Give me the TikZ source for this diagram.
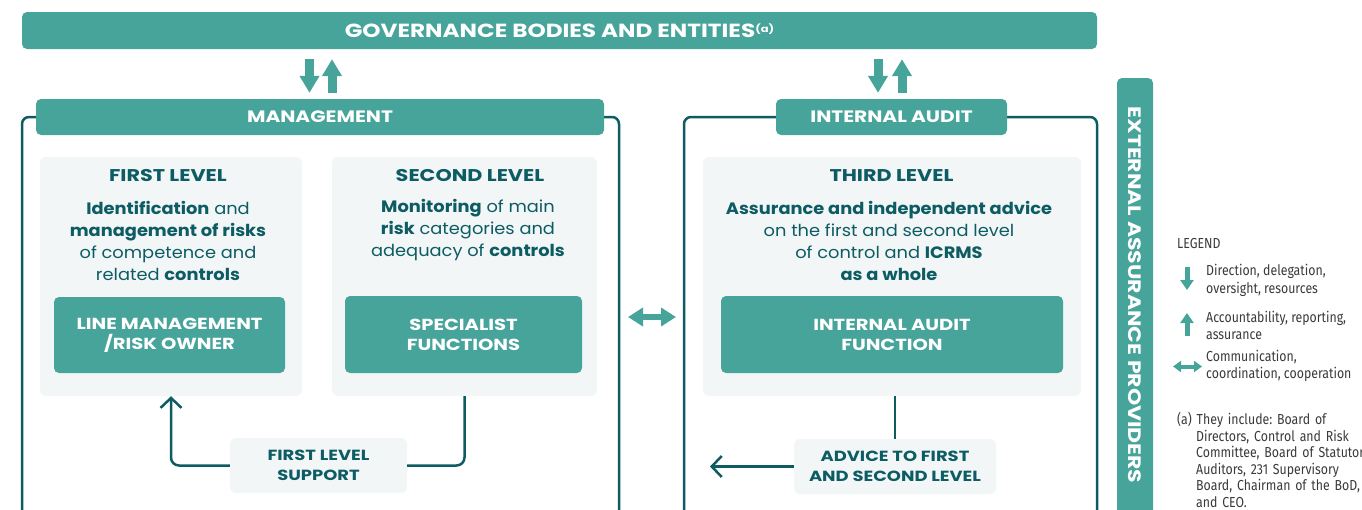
\documentclass[tikz,border=0pt]{standalone}
\usepackage{fontspec}
\setmainfont[FakeStretch=1.08]{Poppins}
\newfontfamily\capsfont[FakeStretch=1.22]{Poppins}
\newfontfamily\legendfont[FakeStretch=0.85]{Fira Sans}
\usetikzlibrary{arrows.meta,calc}
\definecolor{teal}{HTML}{46A49A}
\definecolor{dteal}{HTML}{0D5C63}
\definecolor{lgray}{HTML}{F2F6F7}
\definecolor{legtxt}{HTML}{3A3A3A}
\tikzset{
  tealbar/.style={fill=teal, rounded corners=5pt, inner sep=0pt, text=white, font=\capsfont\fontsize{16.5}{20}\selectfont\bfseries},
  graybox/.style={fill=lgray, rounded corners=6pt, inner sep=0pt},
  framebox/.style={draw=dteal, line width=2.5pt, rounded corners=7pt, inner sep=0pt},
  title/.style={text=dteal, font=\capsfont\fontsize{17}{20}\selectfont\bfseries, inner sep=0pt},
  body/.style={text=dteal, font=\fontsize{16.5}{22}\selectfont, align=center, inner sep=0pt},
  btntext/.style={align=center, font=\capsfont\fontsize{16}{20}\selectfont\bfseries},
  subbox/.style={fill=lgray, rounded corners=6pt, inner sep=0pt, text=dteal, align=center, font=\capsfont\fontsize{14.7}{20}\selectfont\bfseries},
  fatarrow/.style={draw=teal, line width=9pt, -{Triangle[width=19pt,length=17pt]}},
  fatdouble/.style={draw=teal, line width=6pt, {Triangle[width=18pt,length=15pt]}-{Triangle[width=18pt,length=15pt]}},
  legarrow/.style={draw=teal, line width=5pt, -{Triangle[width=13pt,length=10pt]}},
  legdouble/.style={draw=teal, line width=4pt, {Triangle[width=11pt,length=8pt]}-{Triangle[width=11pt,length=8pt]}},
  conn/.style={draw=dteal, line width=2.5pt, rounded corners=8pt},
  openhead/.style={-{Straight Barb[length=10pt,width=21pt,line width=2.5pt]}},
  legtext/.style={text=legtxt, font=\legendfont\fontsize{14.5}{17.3}\selectfont, align=left, inner sep=0pt, anchor=west},
}
\begin{document}
\frenchspacing
\begin{tikzpicture}[x=1pt,y=-1pt]
\useasboundingbox (0,0) rectangle (1362,509);
\clip (0,0) rectangle (1362,509);

% frames
\node[framebox, minimum width=597pt, minimum height=423pt] (mframe) at (320.5,328.5) {};
\node[framebox, minimum width=413pt, minimum height=423pt] (iframe) at (890.5,328.5) {};

% bars
\node[tealbar, minimum width=1075pt, minimum height=37pt, font=\capsfont\fontsize{19}{20}\selectfont\bfseries] (gov) at (559.5,30.5)
  {GOVERNANCE BODIES AND ENTITIES\raisebox{5pt}{\fontsize{9.5}{10}\selectfont(a)}};
\node[tealbar, minimum width=568pt, minimum height=36pt] (mgmt) at (320,117) {MANAGEMENT};
\node[tealbar, minimum width=231pt, minimum height=36pt] (ia) at (891.5,117) {INTERNAL AUDIT};
\node[tealbar, minimum width=36pt, minimum height=470pt] (ext) at (1135,313) {};
\node[text=white, font=\capsfont\fontsize{18}{20}\selectfont\bfseries, rotate=-90, inner sep=0pt] (exttext) at (1135,295) {EXTERNAL ASSURANCE PROVIDERS};

% arrows gov <-> mgmt / ia
\draw[fatarrow] ($(gov.south -| mgmt.north)+(-10.5,10)$) -- ($(mgmt.north)+(-10.5,-6)$);
\draw[fatarrow] ($(mgmt.north)+(12,-6)$) -- ($(gov.south -| mgmt.north)+(12,10)$);
\draw[fatarrow] ($(gov.south -| ia.north)+(-13.5,10)$) -- ($(ia.north)+(-13.5,-6)$);
\draw[fatarrow] ($(ia.north)+(10.5,-6)$) -- ($(gov.south -| ia.north)+(10.5,10)$);

% gray level boxes
\node[graybox, minimum width=262pt, minimum height=239pt] (first) at (171,276.5) {};
\node[graybox, minimum width=265pt, minimum height=239pt] (second) at (464.5,276.5) {};
\node[graybox, minimum width=378pt, minimum height=239pt] (third) at (892,276.5) {};

\node[title] (t1) at (168,176) {FIRST LEVEL};
\node[title] (t2) at (470,176) {SECOND LEVEL};
\node[title] (t3) at (891.5,176) {THIRD LEVEL};

\node[body] (b1) at (168,241) {\textbf{Identification} and\\\textbf{management of risks}\\of competence and\\related \textbf{controls}};
\node[body] (b2) at (468,230) {\textbf{Monitoring} of main\\\textbf{risk} categories and\\adequacy of \textbf{controls}};
\node[body] (b3) at (889,241) {\textbf{Assurance and independent advice}\\on the first and second level\\of control and \textbf{ICRMS}\\\textbf{as a whole}};

% buttons
\node[tealbar, minimum width=231pt, minimum height=76pt, btntext] (lm) at (169.5,335) {LINE MANAGEMENT\\/RISK OWNER};
\node[tealbar, minimum width=237pt, minimum height=77pt, btntext] (sp) at (463.5,334.5) {SPECIALIST\\FUNCTIONS};
\node[tealbar, minimum width=342pt, minimum height=77pt, btntext] (iaf) at (892,334.5) {INTERNAL AUDIT\\FUNCTION};

% support boxes
\node[subbox, minimum width=177pt, minimum height=55pt] (support) at (318.5,465.5) {FIRST LEVEL\\SUPPORT};
\node[subbox, minimum width=202pt, minimum height=55pt] (advice) at (895,466.5) {ADVICE TO FIRST\\AND SECOND LEVEL};

% connectors
\draw[conn] (second.south) |- (support.east);
\draw[conn, openhead] (support.west) -| (first.south);
\draw[conn] (third.south -| advice.north) -- (advice.north);
\coordinate (advtip) at (710,466.5);
\draw[conn, openhead] (advice.west) -- (advtip);

% double arrow between management and internal audit
\coordinate (dl) at (628,317);
\coordinate (dr) at (676,317);
\draw[fatdouble] (dl) -- (dr);

% legend
\node[legtext] (leg) at (1177,243) {LEGEND};
\coordinate (l1a) at (1187,267);
\coordinate (l1b) at (1187,290);
\draw[legarrow] (l1a) -- (l1b);
\node[legtext] (lt1) at (1206,280.5) {Direction, delegation,\\oversight, resources};
\coordinate (l2a) at (1187,336);
\coordinate (l2b) at (1187,313);
\draw[legarrow] (l2a) -- (l2b);
\node[legtext] (lt2) at (1206,325.5) {Accountability, reporting,\\assurance};
\coordinate (l3a) at (1173,366.5);
\coordinate (l3b) at (1202,366.5);
\draw[legdouble] (l3a) -- (l3b);
\node[legtext] (lt3) at (1206,366) {Communication,\\coordination, cooperation};
\node[text=legtxt, font=\legendfont\fontsize{14.5}{16.6}\selectfont, inner sep=0pt, anchor=north west, text width=300pt, align=left] (note) at (1177,412)
  {(a) They include: Board of\\\hspace*{19pt}Directors, Control and Risk\\\hspace*{19pt}Committee, Board of Statutory\\\hspace*{19pt}Auditors, 231 Supervisory\\\hspace*{19pt}Board, Chairman of the BoD,\\\hspace*{19pt}and CEO.};
\end{tikzpicture}
\end{document}
